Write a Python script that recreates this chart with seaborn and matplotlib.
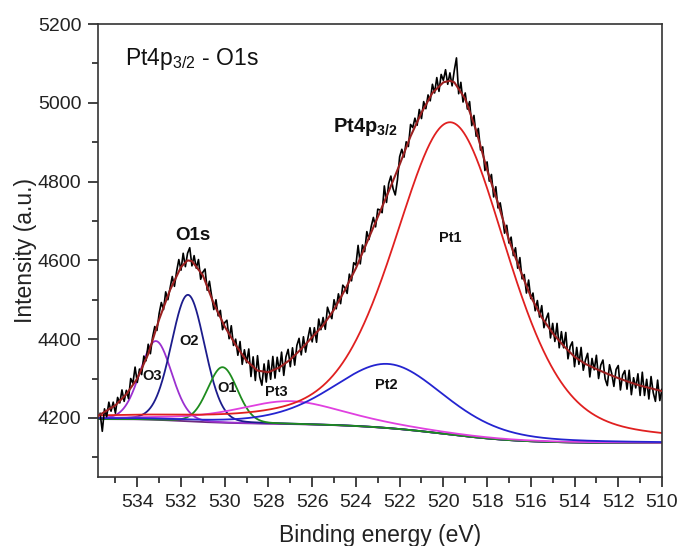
import numpy as np
import pandas as pd
import matplotlib
matplotlib.use("Agg")
import matplotlib.pyplot as plt
from matplotlib.ticker import MultipleLocator
import seaborn as sns

# ---------------- data ----------------
# measured spectrum: first energy and sampling step (eV), then counts
start_energy = 535.7
energy_step = 0.1
intensity = [
    4212, 4166, 4223, 4203, 4240, 4217, 4240, 4212, 4252, 4238,
    4271, 4242, 4270, 4249, 4300, 4288, 4329, 4290, 4324, 4310,
    4357, 4345, 4387, 4363, 4405, 4432, 4422, 4465, 4493, 4475,
    4520, 4500, 4530, 4559, 4534, 4572, 4602, 4575, 4618, 4584,
    4618, 4632, 4586, 4612, 4580, 4602, 4552, 4570, 4578, 4524,
    4547, 4510, 4475, 4500, 4459, 4473, 4424, 4442, 4448, 4401,
    4434, 4384, 4400, 4359, 4394, 4336, 4373, 4340, 4375, 4305,
    4355, 4295, 4358, 4304, 4283, 4337, 4291, 4346, 4298, 4356,
    4301, 4354, 4318, 4367, 4308, 4355, 4374, 4330, 4378, 4334,
    4384, 4402, 4360, 4406, 4367, 4401, 4429, 4393, 4429, 4392,
    4451, 4424, 4455, 4425, 4481, 4464, 4452, 4500, 4477, 4515,
    4490, 4537, 4530, 4516, 4565, 4548, 4594, 4588, 4638, 4591,
    4639, 4622, 4673, 4653, 4686, 4709, 4685, 4730, 4728, 4721,
    4789, 4747, 4795, 4814, 4782, 4766, 4804, 4863, 4882, 4862,
    4901, 4889, 4945, 4937, 4961, 4943, 4983, 4960, 5003, 4985,
    5020, 5005, 5047, 5025, 5064, 5029, 5072, 5057, 5084, 5047,
    5076, 5043, 5082, 5114, 5023, 5052, 5002, 5025, 4984, 5003,
    4942, 4968, 4915, 4935, 4880, 4888, 4828, 4850, 4801, 4818,
    4761, 4787, 4733, 4746, 4713, 4669, 4689, 4644, 4659, 4612,
    4632, 4580, 4607, 4553, 4564, 4517, 4550, 4503, 4517, 4472,
    4498, 4456, 4485, 4429, 4451, 4466, 4403, 4440, 4394, 4440,
    4378, 4419, 4378, 4417, 4350, 4381, 4393, 4330, 4379, 4336,
    4379, 4321, 4347, 4364, 4304, 4351, 4322, 4359, 4300, 4334,
    4347, 4299, 4282, 4335, 4313, 4280, 4323, 4333, 4271, 4309,
    4320, 4273, 4321, 4259, 4302, 4276, 4312, 4257, 4316, 4257,
    4298, 4248, 4305, 4264, 4242, 4296, 4244, 4273,
]

# fitted envelope (dark red)
env_energy = [535.8, 535.5, 535.0, 534.5, 534.0, 533.5, 533.0, 532.5, 532.0, 531.7,
              531.5, 531.0, 530.5, 530.0, 529.5, 529.0, 528.5, 528.0, 527.5, 527.0,
              526.5, 526.0, 525.5, 525.0, 524.5, 524.0, 523.5, 523.0, 522.5, 522.0,
              521.5, 521.0, 520.5, 520.0, 519.7, 519.5, 519.0, 518.5, 518.0, 517.5,
              517.0, 516.5, 516.0, 515.5, 515.0, 514.5, 514.0, 513.5, 513.0, 512.5,
              512.0, 511.5, 511.0, 510.5, 510.0]
env_intensity = [4205, 4215, 4232, 4260, 4300, 4362, 4450, 4525, 4583, 4600,
                 4598, 4562, 4490, 4432, 4385, 4345, 4320, 4316, 4328, 4348,
                 4375, 4405, 4435, 4475, 4525, 4580, 4645, 4710, 4775, 4843,
                 4915, 4975, 5025, 5052, 5056, 5052, 5010, 4930, 4830, 4745,
                 4652, 4577, 4508, 4455, 4415, 4383, 4355, 4337, 4324, 4312,
                 4301, 4291, 4282, 4275, 4268]

# fitted components (pseudo-Voigt parameters)
peak_names = ["O3", "O2", "O1", "Pt3", "Pt2", "Pt1"]
peak_centers = [533.15, 531.68, 530.10, 527.0, 522.5, 519.65]
peak_heights = [200, 321, 141, 58, 163, 793]
peak_fwhm = [1.7, 1.8, 1.6, 6.0, 6.0, 6.1]
peak_lorentz = [0.1, 0.1, 0.1, 0.5, 0.3, 0.35]
peak_colors = ["#9B30D0", "#1C1C8C", "#1E8C1E", "#E040E0", "#2424D0", "#E02020"]

# Shirley background end points
baseline_high = 4197
baseline_low = 4136

# ---------------- figure ----------------
sns.set_theme(style="ticks")
plt.rcParams["font.family"] = ["Liberation Sans", "DejaVu Sans"]
plt.rcParams["mathtext.fontset"] = "custom"
plt.rcParams["mathtext.rm"] = "Liberation Sans"
plt.rcParams["mathtext.it"] = "Liberation Sans:italic"
plt.rcParams["mathtext.bf"] = "Liberation Sans:bold"
plt.rcParams["mathtext.default"] = "regular"

fig = plt.figure(figsize=(6.8, 5.46), dpi=100)
ax = fig.add_axes([0.144, 0.1264, 0.8295, 0.8296])

energy = start_energy - energy_step * np.arange(len(intensity))
df_data = pd.DataFrame({"E": energy, "I": intensity})

# component curves on a fine energy grid
E = np.linspace(535.8, 510.0, 1033)
comps = []
for c, h, w, m in zip(peak_centers, peak_heights, peak_fwhm, peak_lorentz):
    u = ((E - c) / w) ** 2
    comps.append(h * ((1 - m) * np.exp(-4 * np.log(2) * u) + m / (1 + 4 * u)))
total = np.sum(comps, axis=0)
cum = np.cumsum(total[::-1])[::-1]
base = baseline_low + (baseline_high - baseline_low) * cum / cum[0]

# measured data
sns.lineplot(data=df_data, x="E", y="I", color="black", lw=1.2, sort=False,
             estimator=None, ax=ax, zorder=3)

# baseline and components
sns.lineplot(x=E, y=base, color="#6E2A80", lw=1.3, sort=False, estimator=None,
             ax=ax, zorder=2)
for comp, col in zip(comps, peak_colors):
    sns.lineplot(x=E, y=base + comp, color=col, lw=1.3, sort=False,
                 estimator=None, ax=ax, zorder=2)

# envelope
sns.lineplot(x=env_energy, y=env_intensity, color="#9A2020", lw=1.5, sort=False,
             estimator=None, ax=ax, zorder=4)

ax.set_xlim(535.8, 510.0)
ax.set_ylim(4050, 5200)
ax.xaxis.set_major_locator(MultipleLocator(2))
ax.xaxis.set_minor_locator(MultipleLocator(1))
ax.yaxis.set_major_locator(MultipleLocator(200))
ax.yaxis.set_minor_locator(MultipleLocator(100))
ax.tick_params(which="major", direction="out", length=7, width=1.2,
               labelsize=14, pad=5, colors="#222222")
ax.tick_params(which="minor", direction="out", length=4, width=1.2,
               colors="#222222")
ax.tick_params(top=False, right=False, which="both")
for s in ax.spines.values():
    s.set_linewidth(1.2)
    s.set_color("#333333")

ax.set_xlabel("Binding energy (eV)", fontsize=16.5, color="#222222")
ax.set_ylabel("Intensity (a.u.)", fontsize=16.5, color="#222222")
ax.xaxis.set_label_coords(0.5, -0.104)
ax.yaxis.set_label_coords(-0.108, 0.5)

# annotations
ax.text(534.58, 5096, r"Pt4p$_{3/2}$ - O1s", fontsize=16.5, ha="left",
        va="baseline", color="#111111")
ax.text(531.47, 4662, "O1s", fontsize=13.5, fontweight="bold", ha="center",
        va="center", color="#111111")
ax.text(525.06, 4926, r"$\mathbf{Pt4p}_{\mathbf{3/2}}$", fontsize=14.5,
        ha="left", va="baseline", color="#111111")
label_pos = {"O3": (533.33, 4306), "O2": (531.62, 4396), "O1": (529.90, 4275),
             "Pt3": (527.62, 4266), "Pt2": (522.62, 4283), "Pt1": (519.69, 4657)}
for name in peak_names:
    x, y = label_pos[name]
    ax.text(x, y, name, fontsize=10.5, fontweight="bold", ha="center",
            va="center", color="#111111", zorder=6)

fig.savefig("out.png", dpi=100)
